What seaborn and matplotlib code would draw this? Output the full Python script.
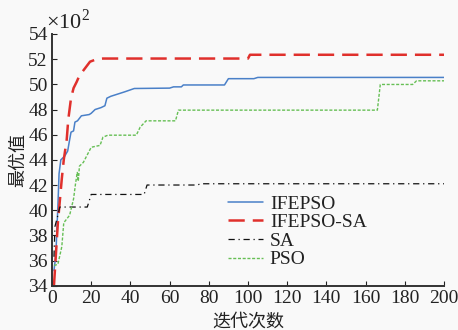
import matplotlib
matplotlib.use("Agg")
import matplotlib.pyplot as plt
import seaborn as sns
import pandas as pd

# ---- data (values in units of 10^2) ----
ifepso_x = [1, 2, 2.5, 3, 3.6, 4.5, 6.5, 8, 9, 9.7, 11, 11.7, 13, 15, 19, 20, 22, 25, 27, 28, 30, 33, 37, 42, 60, 62, 66, 67, 88, 90, 103, 105, 200]
ifepso_y = [35.2, 36.5, 38.5, 40.3, 42.9, 44.0, 44.3, 44.7, 45.6, 46.2, 46.3, 47.0, 47.1, 47.5, 47.6, 47.7, 48.0, 48.15, 48.3, 48.9, 49.05, 49.2, 49.4, 49.67, 49.7, 49.8, 49.8, 49.95, 49.95, 50.45, 50.45, 50.55, 50.55]

ifepsosa_x = [1, 3, 5, 6, 7.5, 8.3, 9.7, 11, 12.6, 14, 16, 19.4, 22.8, 26, 100, 101, 200]
ifepsosa_y = [34.0, 39.0, 42.5, 44.0, 45.6, 47.2, 48.9, 49.7, 50.2, 50.7, 51.1, 51.8, 52.0, 52.05, 52.05, 52.35, 52.35]

sa_x = [1, 1.5, 3, 4, 18, 20, 47, 48.5, 74, 76, 200]
sa_y = [36.3, 38.7, 39.6, 40.25, 40.25, 41.25, 41.25, 42.0, 42.0, 42.1, 42.1]

pso_x = [1, 3, 5, 6, 7.5, 9, 11, 12, 12.9, 13.4, 14, 16, 18, 20, 23, 24.5, 26, 28.5, 43, 45, 48, 63, 64.5, 166, 167.5, 184, 186, 200]
pso_y = [35.6, 35.7, 37.1, 39.0, 39.3, 39.6, 40.9, 42.1, 43.0, 42.3, 43.5, 43.8, 44.4, 45.0, 45.1, 45.15, 45.8, 45.96, 45.96, 46.6, 47.1, 47.1, 47.95, 47.95, 49.99, 49.99, 50.28, 50.28]

series_names = ["IFEPSO", "IFEPSO-SA", "SA", "PSO"]
x_ticks = [0, 20, 40, 60, 80, 100, 120, 140, 160, 180, 200]
y_ticks = [34, 36, 38, 40, 42, 44, 46, 48, 50, 52, 54]
x_label = "迭代次数"
y_label = "最优值"

sns.set_style("ticks")
plt.rcParams["font.family"] = ["Liberation Serif", "Noto Sans CJK SC"]
plt.rcParams["mathtext.fontset"] = "custom"
plt.rcParams["mathtext.rm"] = "Liberation Serif"

bg = "#f9f9f9"
fig = plt.figure(figsize=(4.58, 3.30), dpi=100, facecolor=bg)
ax = fig.add_axes([52/458, 1-285.7/330, (444-52)/458, (285.7-34)/330])
ax.set_facecolor(bg)

styles = [
    dict(color="#4a80c8", lw=1.1, ls="-"),
    dict(color="#e0302c", lw=1.8, ls=(0, (6.5, 3.2))),
    dict(color="#111111", lw=0.9, ls=(0, (5, 3, 1, 3))),
    dict(color="#66bf55", lw=1.0, ls=(0, (2.2, 1.2))),
]
xs = [ifepso_x, ifepsosa_x, sa_x, pso_x]
ys = [ifepso_y, ifepsosa_y, sa_y, pso_y]
for name, x, y, st in zip(series_names, xs, ys, styles):
    df = pd.DataFrame({"x": x, "y": y})
    sns.lineplot(data=df, x="x", y="y", ax=ax, label=name, color=st["color"],
                 linewidth=st["lw"], linestyle=st["ls"], estimator=None, sort=False)

ax.set_xlim(0, 200)
ax.set_ylim(34, 54)
ax.set_xticks(x_ticks)
ax.set_yticks(y_ticks)
ax.tick_params(direction="in", length=3.5, width=0.8, labelsize=14, colors="#222222", pad=3)
for s in ["top", "right"]:
    ax.spines[s].set_visible(False)
for s in ["left", "bottom"]:
    ax.spines[s].set_linewidth(1.4)
    ax.spines[s].set_color("#333333")

ax.set_xlabel(x_label, fontsize=13, family=["Noto Sans CJK SC"], labelpad=4, color="#222222")
ax.set_ylabel(y_label, fontsize=13, family=["Noto Sans CJK SC"], labelpad=1, color="#222222")

fig.text(46/458, 1-21/330, r"$\times10^{2}$", fontsize=16, va="center", ha="left", color="#222222")

leg = ax.legend(loc="center left", bbox_to_anchor=((228-52)/392, (285.7-231.7)/251.7),
                frameon=False, fontsize=14, handlelength=1.8, handletextpad=0.35,
                labelspacing=0.05, borderpad=0, borderaxespad=0)
for t in leg.get_texts():
    t.set_color("#222222")

fig.savefig("out.png", dpi=100, facecolor=bg)
